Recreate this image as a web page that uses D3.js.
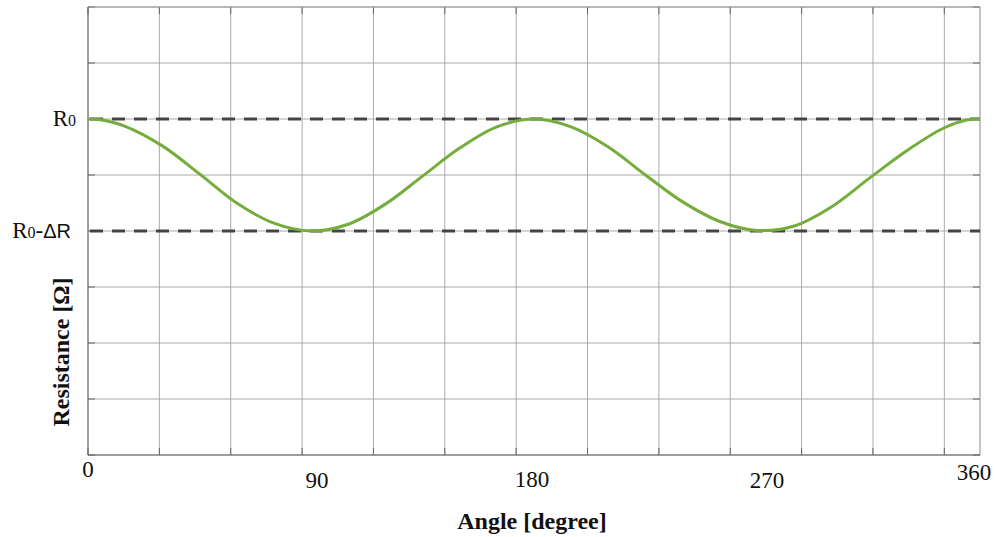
<!DOCTYPE html>
<html lang="en">
<head>
<meta charset="utf-8">
<script src="https://d3js.org/d3.v7.min.js"></script>
<style>
  body { margin: 0; background: #fff; }
  text { font-family: "Liberation Serif", "Times New Roman", serif; fill: #111; }
</style>
</head>
<body>
<script>
// angle in degrees, resistance in grid units (R0 = 6, R0-dR = 4)
var angles = [0, 5, 15, 30, 45, 60, 75, 90, 105, 120, 135, 150, 165, 180,
              195, 210, 225, 240, 255, 270, 285, 300, 315, 330, 345, 355, 360];
var resistance = [6.0, 5.985, 5.87, 5.52, 5.02, 4.5, 4.14, 4.0, 4.12, 4.48, 4.98, 5.48, 5.86, 6.0,
                  5.86, 5.5, 5.0, 4.52, 4.17, 4.01, 4.09, 4.43, 4.93, 5.42, 5.83, 5.985, 6.0];
var refLevels = [6, 4];
var refNames = ["R0", "R0-ΔR"];
var xTickValues = [0, 90, 180, 270, 360];
var xTitle = "Angle [degree]";
var yTitle = "Resistance [Ω]";

var W = 995, H = 537;
var pLeft = 88, pRight = 980, pTop = 7, pBottom = 455;

var svg = d3.select("body").append("svg")
  .attr("width", W).attr("height", H);

var x = d3.scaleLinear().domain([0, 360]).range([pLeft, pRight]);
var y = d3.scaleLinear().domain([0, 8]).range([pBottom, pTop]);

// grid: vertical lines every 28.8 deg, horizontal every unit
var xGrid = d3.range(0, 360, 28.8);
var yGrid = d3.range(0, 9, 1);

svg.append("g").selectAll("line").data(xGrid).enter().append("line")
  .attr("x1", d => x(d)).attr("x2", d => x(d))
  .attr("y1", pTop).attr("y2", pBottom)
  .attr("stroke", "#aaa").attr("stroke-width", 1);
svg.append("g").selectAll("line").data(yGrid).enter().append("line")
  .attr("x1", pLeft).attr("x2", pRight)
  .attr("y1", d => y(d)).attr("y2", d => y(d))
  .attr("stroke", "#aaa").attr("stroke-width", 1);

// small inner ticks on the frame
var tk = svg.append("g").attr("stroke", "#666").attr("stroke-width", 1);
xGrid.forEach(function(d) {
  tk.append("line").attr("x1", x(d)).attr("x2", x(d)).attr("y1", pBottom).attr("y2", pBottom - 7);
  tk.append("line").attr("x1", x(d)).attr("x2", x(d)).attr("y1", pTop).attr("y2", pTop + 7);
});
yGrid.forEach(function(d) {
  tk.append("line").attr("x1", pLeft).attr("x2", pLeft + 7).attr("y1", y(d)).attr("y2", y(d));
  tk.append("line").attr("x1", pRight).attr("x2", pRight - 7).attr("y1", y(d)).attr("y2", y(d));
});

// frame
svg.append("line").attr("x1", pLeft).attr("x2", pRight).attr("y1", pTop).attr("y2", pTop)
  .attr("stroke", "#999");
svg.append("line").attr("x1", pRight).attr("x2", pRight).attr("y1", pTop).attr("y2", pBottom)
  .attr("stroke", "#888");
svg.append("line").attr("x1", pLeft).attr("x2", pLeft).attr("y1", pTop).attr("y2", pBottom)
  .attr("stroke", "#666");
svg.append("line").attr("x1", pLeft).attr("x2", pRight).attr("y1", pBottom).attr("y2", pBottom)
  .attr("stroke", "#666");

// dashed reference levels
svg.append("g").selectAll("line").data(refLevels).enter().append("line")
  .attr("x1", pLeft + 2).attr("x2", pRight)
  .attr("y1", d => y(d)).attr("y2", d => y(d))
  .attr("stroke", "#444").attr("stroke-width", 3)
  .attr("stroke-dasharray", "13,9");

// curve
var line = d3.line()
  .x(function(d, i) { return x(angles[i]); })
  .y(function(d) { return y(d); })
  .curve(d3.curveCatmullRom.alpha(0.5));

svg.append("path").datum(resistance)
  .attr("d", line)
  .attr("fill", "none")
  .attr("stroke", "#74ad3c")
  .attr("stroke-width", 3);

// y level labels
var lab = svg.append("g");
refLevels.forEach(function(v, i) {
  var t = lab.append("text")
    .attr("x", i === 0 ? pLeft - 12 : pLeft - 17)
    .attr("y", y(v) + 7)
    .attr("text-anchor", "end")
    .style("font-size", "23px");
  var name = refNames[i];
  t.append("tspan").text(name[0]);
  t.append("tspan").style("font-size", "16px").text(name[1]);
  if (name.length > 2) {
    t.append("tspan").text(name[2]);
    t.append("tspan").style("font-family", "'Liberation Sans', Arial, sans-serif")
      .style("font-size", "20px").text(name.slice(3));
  }
});

// x tick labels (0 and 360 sit a bit higher, like the original)
var xOff = [0, 6, -2, 10, -6];
var yOff = [22, 33, 32, 33, 25];
svg.append("g").selectAll("text").data(xTickValues).enter().append("text")
  .attr("x", (d, i) => x(d) + xOff[i])
  .attr("y", (d, i) => pBottom + yOff[i])
  .attr("text-anchor", "middle")
  .style("font-size", "23px")
  .text(d => d);

// axis titles
svg.append("text")
  .attr("x", 532).attr("y", 529)
  .attr("text-anchor", "middle")
  .style("font-size", "24px").style("font-weight", "bold")
  .text(xTitle);

svg.append("text")
  .attr("transform", "translate(69,352) rotate(-90)")
  .attr("text-anchor", "middle")
  .style("font-size", "24px").style("font-weight", "bold")
  .text(yTitle);
</script>
</body>
</html>
